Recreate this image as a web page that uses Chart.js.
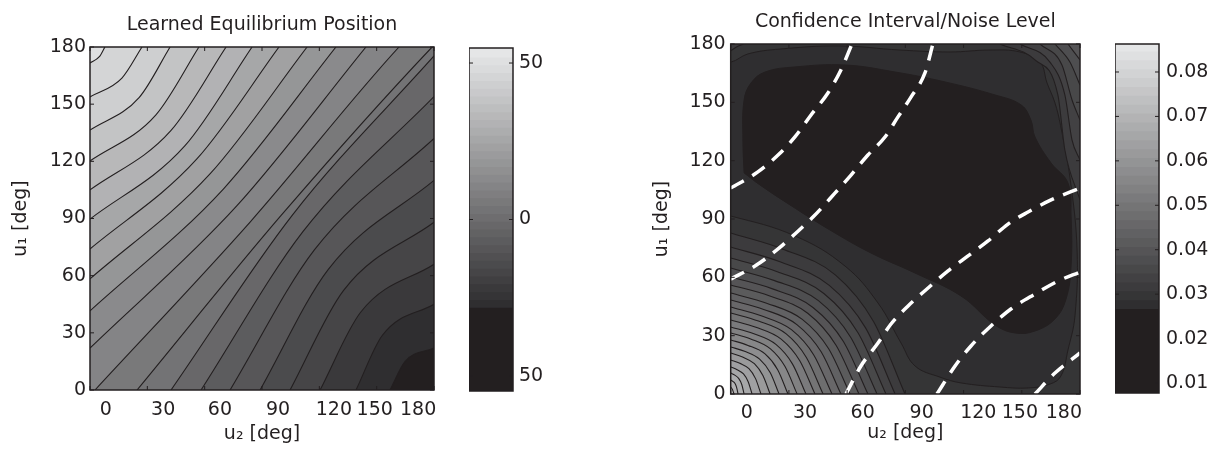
<!DOCTYPE html>
<html>
<head>
<meta charset="utf-8">
<script src="https://cdn.jsdelivr.net/npm/chart.js@4.4.1/dist/chart.umd.min.js"></script>
<style>
  body { margin: 0; background: #fff; }
  #wrap { position: relative; width: 1214px; height: 453px; }
  canvas { position: absolute; top: 0; }
</style>
</head>
<body>
<div id="wrap">
  <canvas id="eqChart" width="450" height="453" style="left:0px"></canvas>
  <canvas id="eqBar" width="90" height="453" style="left:469px"></canvas>
  <canvas id="ciChart" width="500" height="453" style="left:600px"></canvas>
  <canvas id="ciBar" width="99" height="453" style="left:1115px"></canvas>
</div>
<script>
const FONT = "'DejaVu Sans', sans-serif";
const INK = '#231f20';

// axes (u2 labels sit to the right of their tick marks in the original)
const tickVals = [0, 30, 60, 90, 120, 150, 180];
const xLabelPos = [8.3, 38.3, 68, 98.4, 127.6, 149, 171.7];
const xLabels = ['0', '30', '60', '90', '120', '150', '180'];

// ---------- Learned Equilibrium Position ----------
// contour lines starting on the left edge (lighter side above)
const eqUpperLevels = [48, 44, 40, 36, 32, 28, 24, 20, 16, 12];
const eqUpperLines = [
  [[0, 171.6], [4.9, 174.9], [7.8, 180]],
  [[0, 153.8], [16.7, 163.7], [27.2, 180]],
  [[0, 136.4], [25.8, 153.6], [41.9, 180]],
  [[0, 120.2], [34.5, 144.4], [57, 180]],
  [[0, 105], [42.3, 136.1], [71.2, 180]],
  [[0, 89.7], [49.6, 128.1], [84.8, 180]],
  [[0, 74], [55.8, 121.1], [98.9, 180]],
  [[0, 58.3], [62.9, 113.5], [113.6, 180]],
  [[0, 41.5], [69.9, 105.6], [128.7, 180]],
  [[0, 22], [76.9, 96.7], [144.4, 180]]
];
// contour lines starting on the bottom edge (darker side below)
const eqLowerLevels = [8, 4, 0, -4, -8, -12, -16, -20, -24, -28];
const eqLowerLines = [
  [[2.6, 0], [84, 88.4], [161.7, 180]],
  [[24.6, 0], [100, 91.6], [179, 180]],
  [[42.4, 0], [105.9, 91.8], [180, 175.3]],
  [[58.1, 0], [111.4, 83.1], [180, 154]],
  [[73.3, 0], [117.4, 73.5], [180, 132]],
  [[89, 0], [124.6, 63.2], [180, 110]],
  [[104.7, 0], [132.7, 52.3], [180, 88]],
  [[120.4, 0], [141.6, 40.8], [180, 66]],
  [[139.2, 0], [152.9, 28.6], [180, 45]],
  [[157, 0], [164.8, 14.9], [180, 22]]
];
const eqMidValue = 10;
const eqBandEdges = [-28.4, -25.9, -23.4, -20.9, -18.4, -15.9, -13.4, -10.9, -8.4, -5.9, -3.4, -0.9,
  1.6, 4.1, 6.6, 9.1, 11.6, 14.1, 16.6, 19.1, 21.6, 24.1, 26.6, 29.1, 31.6, 34.1, 36.6, 39.1,
  41.6, 44.1, 46.6, 49.1, 51.6, 54.8];
const eqBarMin = -54.8, eqBarMax = 54.8;
const eqBarTicks = [50, 0, -50];
const eqBarLabels = ['50', '0', '50'];

// ---------- Confidence Interval/Noise Level ----------
const ciInnerValue = 0.026, ciMidValue = 0.028, ciOuterValue = 0.030;
const ciInnerBlob = [
  [6.9, 113.7], [6.3, 130.6], [6.9, 151.2], [10.5, 160], [17.7, 165.6], [33.1, 168.2],
  [58.9, 169.2], [84.7, 165.6], [110.4, 160.5], [136.2, 153.8], [149.6, 148.7], [154.7, 140.9],
  [156.8, 132.2], [165.1, 118.8], [173.8, 108.5], [175.4, 91.5], [175.4, 65.8], [172.8, 48.8],
  [167.1, 38.6], [156.8, 32.4], [146.5, 31.4], [136.2, 35.5], [118.7, 50.4], [95, 62.2],
  [72.3, 72.5], [51.2, 84.3], [30.6, 97.2], [15.1, 107.5], [6.9, 113.7]
];
const ciMidBlob = [
  [-8.1, 92.1], [0.15, 91.5], [33.1, 81.3], [58.9, 65.8], [75.9, 46.8], [87.8, 26.2],
  [95, 14.4], [107.8, 8.7], [118.7, 5.7], [138.8, 3.6], [153.2, 3.1], [164.5, 5.1],
  [170.2, 9.3], [173.8, 22.6], [177.4, 40.1], [178.5, 74], [175, 110], [170, 138],
  [167, 150], [163, 160], [159.4, 170.7], [149.1, 175.9], [133.6, 176.9], [113, 175.9],
  [87.2, 176.9], [56.3, 179], [25.4, 177.4], [8.9, 174.9], [0.15, 170.7], [-8.1, 170.7], [-8.1, 92.1]
];
// lobe in the lower left corner (lighter side below)
const ciLobeLevels = [0.031, 0.033, 0.035, 0.037, 0.039, 0.041, 0.043, 0.045, 0.047, 0.049, 0.051,
  0.053, 0.055, 0.057, 0.059, 0.061, 0.063, 0.065, 0.067, 0.069, 0.071];
const ciLobeLines = [
  [[0, 82.8], [26.9, 74.5], [53.9, 61.3], [73.6, 37.3], [89.8, 0]],
  [[0, 75.6], [25.4, 68], [50.8, 55.9], [69.5, 34], [84.7, 0]],
  [[0, 69.9], [24, 62.9], [48, 51.7], [65.6, 31.5], [80, 0]],
  [[0, 64.8], [22.6, 58.3], [45.2, 48], [61.8, 29.2], [75.4, 0]],
  [[0, 60.2], [21.2, 54.2], [42.4, 44.5], [58, 27.1], [70.7, 0]],
  [[0, 56.1], [19.8, 50.5], [39.7, 41.5], [54.2, 25.2], [66.1, 0]],
  [[0, 51.9], [18.5, 46.7], [36.9, 38.4], [50.4, 23.4], [61.5, 0]],
  [[0, 48.3], [17, 43.5], [34.1, 35.7], [46.6, 21.7], [56.8, 0]],
  [[0, 44.7], [15.7, 40.2], [31.3, 33.1], [42.8, 20.1], [52.2, 0]],
  [[0, 41.7], [14.3, 37.5], [28.6, 30.9], [39, 18.8], [47.6, 0]],
  [[0, 38.1], [13, 34.3], [26, 28.2], [35.6, 17.1], [43.4, 0]],
  [[0, 34.5], [11.6, 31.1], [23.3, 25.5], [31.8, 15.5], [38.8, 0]],
  [[0, 31.4], [10.3, 28.3], [20.5, 23.2], [28, 14.1], [34.2, 0]],
  [[0, 27.8], [8.9, 25], [17.7, 20.6], [24.2, 12.5], [29.5, 0]],
  [[0, 24.2], [7.5, 21.8], [14.9, 17.9], [20.4, 10.9], [24.9, 0]],
  [[0, 21.1], [6.1, 19], [12.2, 15.6], [16.6, 9.5], [20.3, 0]],
  [[0, 17.5], [4.7, 15.8], [9.4, 13], [12.8, 7.9], [15.6, 0]],
  [[0, 13.9], [3.3, 12.5], [6.6, 10.3], [9, 6.3], [11, 0]],
  [[0, 10.8], [2.1, 9.7], [4.1, 8], [5.7, 4.9], [6.9, 0]],
  [[0, 7.2], [1.1, 6.5], [2.3, 5.3], [3.1, 3.2], [3.8, 0]],
  [[0, 3.6], [0.9, 2.3], [1.7, 0]]
];
// small corners at the top (lighter side above)
const ciCornerLevels = [0.031, 0.031, 0.033, 0.035, 0.037, 0.039];
const ciCornerLines = [
  [[0, 176.5], [3, 178.5], [6.5, 180]],
  [[138.8, 180], [156.8, 171.8], [168.6, 153.8], [172.2, 125.5], [180, 99.8]],
  [[149.1, 180], [164.5, 170.7], [172.2, 153.8], [175.9, 130.6], [180, 120.3]],
  [[159.4, 180], [170.7, 169.2], [175.9, 151.2], [180, 140.9]],
  [[167.1, 180], [174.8, 170.7], [180, 158.9]],
  [[173.8, 180], [180, 171.8]]
];
const ciDashLines = [
  [[0, 105.9], [14, 114.2], [24.4, 122.9], [33.1, 132.2], [41.4, 143.5], [50.1, 154.8], [56.8, 166.6], [62.5, 180]],
  [[0, 59.1], [12.5, 65.8], [24.4, 74.6], [33.1, 82.3], [42.4, 91], [53.8, 103.4], [62, 112.6],
   [70.7, 122.9], [79.5, 132.2], [86.2, 142.5], [92.9, 152.7], [100.1, 165.1], [104.2, 180]],
  [[59.4, 0], [67.1, 14.4], [75.9, 26.2], [82.6, 36], [91.4, 45.3], [101.7, 54.5], [112, 63.3],
   [122.3, 71], [132.6, 78.7], [142.9, 87.4], [153.2, 93.6], [165.1, 99.8], [180, 105.9]],
  [[106.3, 0], [115.6, 14.4], [123.8, 24.7], [134.1, 35], [144.4, 43.7], [156.8, 51.4], [168.7, 58.1], [180, 62.7]],
  [[156.8, 0], [167.1, 10.8], [180, 21.1]]
];
const ciBandEdges = [0.0265, 0.0285, 0.0305, 0.0325, 0.0345, 0.0365, 0.0385, 0.0405, 0.0425, 0.0445,
  0.0465, 0.0485, 0.0505, 0.0525, 0.0545, 0.0565, 0.0585, 0.0605, 0.0625, 0.0645, 0.0665, 0.0685,
  0.0705, 0.0725, 0.0745, 0.0765, 0.0785, 0.0805, 0.0825, 0.0845, 0.0863];
const ciBarMin = 0.00775, ciBarMax = 0.0863;
const ciBarTicks = [0.01, 0.02, 0.03, 0.04, 0.05, 0.06, 0.07, 0.08];
const ciBarLabels = ['0.01', '0.02', '0.03', '0.04', '0.05', '0.06', '0.07', '0.08'];

// stepped gray colormap, everything under the first edge is the dark block
const GRAY_LO = [44, 43, 45], GRAY_HI = [232, 233, 234];
function bandColor(v, edges) {
  if (v < edges[0]) return INK;
  let i = 0;
  while (i < edges.length - 2 && v >= edges[i + 1]) i++;
  const t = (i + 0.5) / (edges.length - 1);
  const c = GRAY_LO.map((lo, k) => Math.round(lo + t * (GRAY_HI[k] - lo)));
  return 'rgb(' + c.join(',') + ')';
}

function toXY(pts) {
  return pts.map(p => ({x: p[0], y: p[1]}));
}

function contourLines(lines, levels, side, shift, edges) {
  return lines.map((pts, i) => {
    const data = toXY(pts);
    const last = pts[pts.length - 1];
    // a line leaving through the top edge: carry its fill on to the right edge (outside the plot)
    if (side === 'start' && last[1] >= 180 && last[0] < 180) {
      data.push({x: 180, y: 180 + (180 - last[0])});
    }
    return {
      data: data,
      fill: side,
      backgroundColor: bandColor(levels[i] + shift, edges),
      borderColor: INK,
      borderWidth: 1.1,
      pointRadius: 0,
      cubicInterpolationMode: 'monotone'
    };
  });
}

function blob(pts, value) {
  return {
    data: toXY(pts),
    fill: 'shape',
    backgroundColor: bandColor(value, ciBandEdges),
    borderColor: INK,
    borderWidth: 1,
    pointRadius: 0,
    tension: 0.4
  };
}

// plot background, box and inward tick marks like the original figure
const framePlugin = {
  id: 'frame',
  beforeDatasetsDraw(chart, args, opts) {
    if (!opts.background) return;
    const a = chart.chartArea;
    chart.ctx.save();
    chart.ctx.fillStyle = opts.background;
    chart.ctx.fillRect(a.left, a.top, a.width, a.height);
    chart.ctx.restore();
  },
  afterDatasetsDraw(chart, args, opts) {
    const {ctx, chartArea: a, scales} = chart;
    ctx.save();
    ctx.strokeStyle = INK;
    ctx.lineWidth = 1;
    ctx.beginPath();
    (opts.xTicks || []).forEach(v => {
      const px = scales.x.getPixelForValue(v);
      ctx.moveTo(px, a.bottom); ctx.lineTo(px, a.bottom - 4);
      ctx.moveTo(px, a.top); ctx.lineTo(px, a.top + 4);
    });
    (opts.yTicks || []).forEach(v => {
      const py = scales.y.getPixelForValue(v);
      ctx.moveTo(a.left, py); ctx.lineTo(a.left + 4, py);
      ctx.moveTo(a.right, py); ctx.lineTo(a.right - 4, py);
    });
    ctx.stroke();
    ctx.lineWidth = 1.5;
    ctx.strokeRect(a.left, a.top, a.width, a.height);
    ctx.restore();
  }
};

function mainOptions(c) {
  const font = {family: FONT, size: 19};
  return {
    responsive: false,
    animation: false,
    events: [],
    layout: {padding: {left: 0, right: c.padRight, top: 0, bottom: 0}},
    plugins: {
      legend: {display: false},
      tooltip: {enabled: false},
      title: {display: true, text: c.title, color: INK, fullSize: false,
        font: {family: FONT, size: 19, weight: 'normal'}, padding: c.titlePad},
      frame: {background: c.background, xTicks: tickVals, yTicks: tickVals}
    },
    scales: {
      x: {
        type: 'linear', min: 0, max: 180,
        afterBuildTicks: s => { s.ticks = xLabelPos.map(v => ({value: v})); },
        afterFit: s => { s.height = c.xHeight; },
        grid: {display: false, drawTicks: false},
        border: {display: false},
        ticks: {callback: (v, i) => xLabels[i], autoSkip: false, maxRotation: 0,
          padding: c.xTickPad, color: INK, font: font},
        title: {display: true, text: 'u\u2082 [deg]', color: INK, font: font,
          padding: {top: 0, bottom: c.xTitlePad}}
      },
      y: {
        type: 'linear', min: 0, max: 180,
        afterBuildTicks: s => { s.ticks = tickVals.map(v => ({value: v})); },
        afterFit: s => { s.width = c.yWidth; },
        grid: {display: false, drawTicks: false},
        border: {display: false},
        ticks: {callback: v => String(v), padding: c.yTickPad, color: INK, font: font},
        title: {display: true, text: 'u\u2081 [deg]', color: INK, font: font,
          padding: {top: c.yTitlePad, bottom: 0}}
      }
    }
  };
}

function colorbar(id, edges, min, max, ticks, labels, padTop, padBottom, axisWidth, tickPad) {
  const bands = [[min, edges[0], INK]];
  for (let i = 0; i < edges.length - 1; i++) {
    bands.push([edges[i], edges[i + 1], bandColor((edges[i] + edges[i + 1]) / 2, edges)]);
  }
  new Chart(document.getElementById(id), {
    type: 'bar',
    data: {
      labels: [''],
      datasets: bands.map(b => ({
        data: [[b[0], b[1]]],
        backgroundColor: b[2],
        borderWidth: 0,
        inflateAmount: 0.6,
        barPercentage: 1,
        categoryPercentage: 1,
        grouped: false
      }))
    },
    options: {
      responsive: false,
      animation: false,
      events: [],
      layout: {padding: {top: padTop, bottom: padBottom, left: 0, right: 0}},
      plugins: {legend: {display: false}, tooltip: {enabled: false}, frame: {yTicks: ticks}},
      scales: {
        x: {display: false},
        y: {
          position: 'right', min: min, max: max,
          afterBuildTicks: s => { s.ticks = ticks.map(v => ({value: v})); },
          afterFit: s => { s.width = axisWidth; },
          grid: {display: false, drawTicks: false},
          border: {display: false},
          ticks: {callback: (v, i) => labels[i], padding: tickPad, color: INK,
            font: {family: FONT, size: 19}}
        }
      }
    },
    plugins: [framePlugin]
  });
}

// left panel
new Chart(document.getElementById('eqChart'), {
  type: 'line',
  data: {
    datasets: [
      ...contourLines(eqUpperLines, eqUpperLevels, 'end', 2, eqBandEdges),
      ...contourLines(eqLowerLines, eqLowerLevels, 'start', -2, eqBandEdges).reverse()
    ]
  },
  options: mainOptions({
    title: 'Learned Equilibrium Position',
    titlePad: {top: 13.6, bottom: 10.6},
    padRight: 16, yWidth: 90, xHeight: 63,
    yTitlePad: 9.6, yTickPad: 4, xTickPad: 9, xTitlePad: 7.6,
    background: bandColor(eqMidValue, eqBandEdges)
  }),
  plugins: [framePlugin]
});
colorbar('eqBar', eqBandEdges, eqBarMin, eqBarMax, eqBarTicks, eqBarLabels, 48, 62, 46, 6);

// right panel
new Chart(document.getElementById('ciChart'), {
  type: 'line',
  data: {
    datasets: [
      ...ciDashLines.map(pts => ({
        data: toXY(pts),
        fill: false,
        borderColor: '#ffffff',
        borderWidth: 3.5,
        borderDash: [15, 10],
        pointRadius: 0,
        cubicInterpolationMode: 'monotone'
      })),
      ...contourLines(ciLobeLines, ciLobeLevels, 'start', 0.001, ciBandEdges).reverse(),
      ...contourLines(ciCornerLines, ciCornerLevels, 'end', 0.001, ciBandEdges).reverse(),
      blob(ciInnerBlob, ciInnerValue),
      blob(ciMidBlob, ciMidValue)
    ]
  },
  options: mainOptions({
    title: 'Confidence Interval/Noise Level',
    titlePad: {top: 10.3, bottom: 10.9},
    padRight: 20, yWidth: 130.7, xHeight: 59,
    yTitlePad: 50.3, yTickPad: 5, xTickPad: 8, xTitlePad: 8.6,
    background: bandColor(ciOuterValue, ciBandEdges)
  }),
  plugins: [framePlugin]
});
colorbar('ciBar', ciBandEdges, ciBarMin, ciBarMax, ciBarTicks, ciBarLabels, 44, 60, 55, 7);
</script>
</body>
</html>
